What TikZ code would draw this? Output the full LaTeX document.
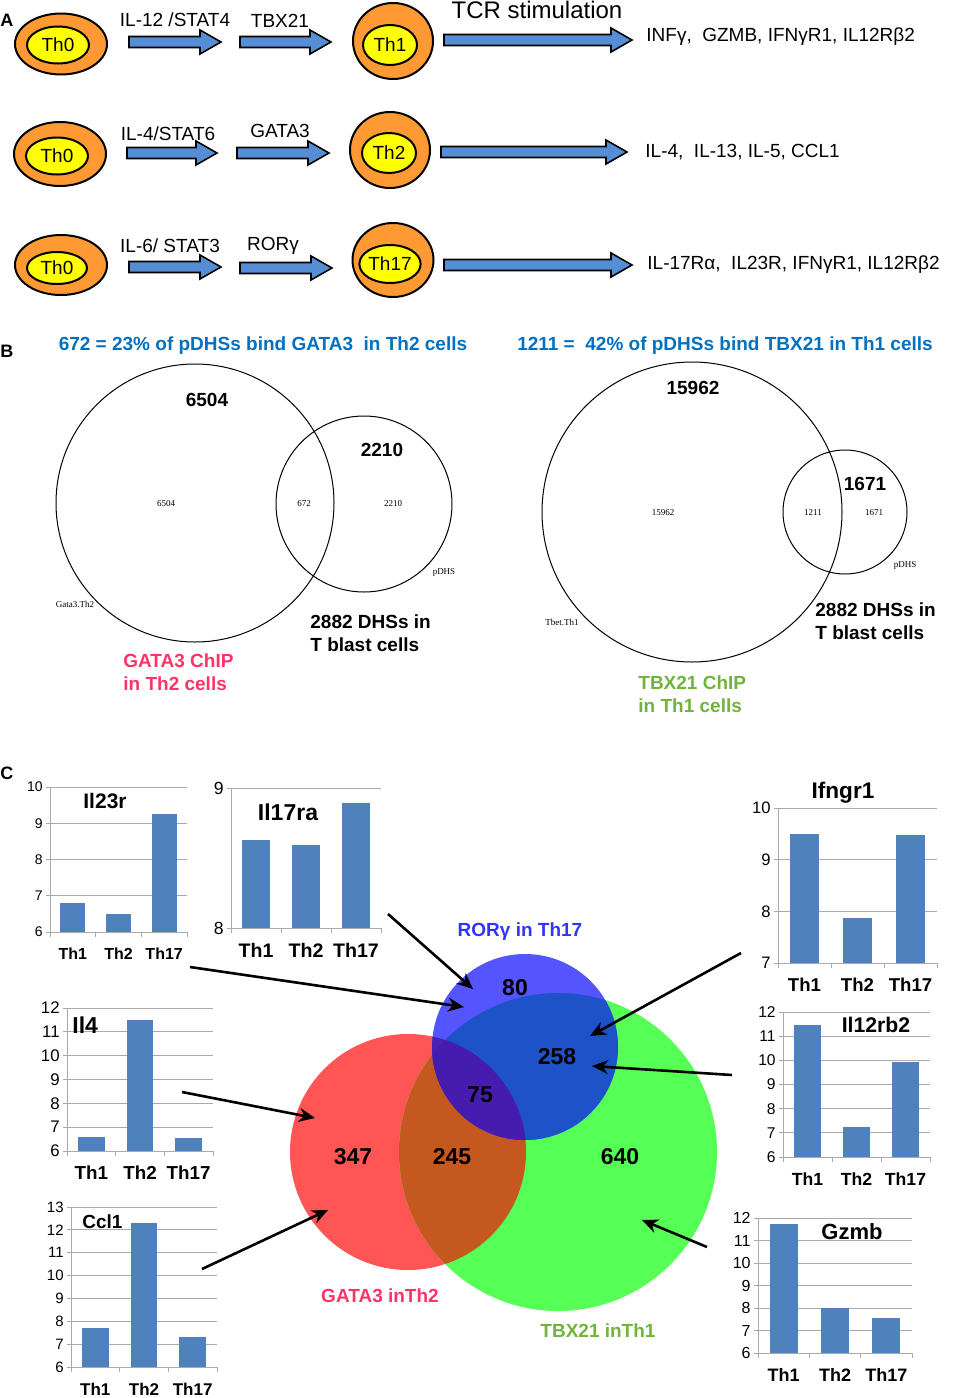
\documentclass[tikz,border=0pt]{standalone}
\usepackage{fontspec}
\setmainfont{Liberation Sans}
\newfontfamily\smallserif{Liberation Serif}
\usetikzlibrary{shapes.geometric,arrows.meta}

\definecolor{cellorange}{RGB}{255,153,51}
\definecolor{cellyellow}{RGB}{255,255,0}
\definecolor{arrowblue}{RGB}{85,142,213}
\definecolor{headblue}{RGB}{0,112,192}
\definecolor{gatared}{RGB}{255,51,102}
\definecolor{tbxgreen}{RGB}{112,180,60}
\definecolor{rorblue}{RGB}{51,51,255}
\definecolor{barblue}{RGB}{79,129,189}
\definecolor{gridgray}{RGB}{170,170,170}
\definecolor{vred}{RGB}{255,85,85}
\definecolor{vgreen}{RGB}{85,255,85}
\definecolor{vblue}{RGB}{85,85,255}
\definecolor{vredgreen}{RGB}{196,88,30}
\definecolor{vbluegreen}{RGB}{30,82,200}
\definecolor{vbluered}{RGB}{75,30,180}
\definecolor{vall}{RGB}{70,28,175}

\tikzset{
  outercell/.style={ellipse, draw, line width=1pt, fill=cellorange, inner sep=0pt},
  innercell/.style={ellipse, draw, line width=1pt, fill=cellyellow, inner sep=0pt,
    font=\fontsize{9.5}{10}\selectfont},
  blockarr/.style={draw, line width=0.8pt, fill=arrowblue},
  steplabel/.style={font=\fontsize{9.5}{10}\selectfont},
  genes/.style={font=\fontsize{9.5}{10}\selectfont, anchor=west, inner sep=0pt},
  heading/.style={font=\fontsize{9.5}{10}\selectfont\bfseries, text=headblue},
  panel/.style={font=\fontsize{9}{10}\selectfont\bfseries},
  vennline/.style={line width=0.5pt},
  bignum/.style={font=\fontsize{9.5}{10}\selectfont\bfseries},
  tinylab/.style={font=\fontsize{4.5}{5}\smallserif},
  setlab/.style={font=\fontsize{9.5}{11.5}\selectfont\bfseries, align=left, anchor=west, inner sep=0pt},
  gridline/.style={draw=gridgray, line width=0.5pt},
  barfill/.style={fill=barblue},
  regnum/.style={font=\fontsize{11.5}{12}\selectfont\bfseries},
  vennlab/.style={font=\fontsize{9.5}{10}\selectfont\bfseries},
  pointer/.style={line width=1.3pt, -{Stealth[length=8pt,width=7pt]}},
}

% block arrow: start x, tip x, centre y
\newcommand{\blockarrow}[3]{%
  \draw[blockarr] ({#1},{#3-5.5}) -- ({#2-21},{#3-5.5}) -- ({#2-21},{#3-12}) -- ({#2},{#3})
    -- ({#2-21},{#3+12}) -- ({#2-21},{#3+5.5}) -- ({#1},{#3+5.5}) -- cycle;}

% bar chart: axis x, axis y, width, height, min, max, values, font size, name
\newcommand{\barchart}[9]{%
  \pgfmathsetmacro{\stepy}{#4/(#6-#5)}
  \pgfmathsetmacro{\catw}{#3/3}
  \pgfmathsetmacro{\barw}{0.55*#3/3}
  \pgfmathsetmacro{\ysize}{#8-1}
  \foreach \gv in {#5,...,#6}{
    \draw[gridline] ({#1-4},{#2-\stepy*(\gv-#5)}) -- ({#1+#3},{#2-\stepy*(\gv-#5)});
    \node[anchor=east, inner sep=0pt, font=\fontsize{\ysize}{\ysize}\selectfont] (#9-y\gv)
      at ({#1-7},{#2-\stepy*(\gv-#5)}) {\gv};
  }
  \draw[gridline] ({#1},{#2}) -- ({#1},{#2-#4});
  \foreach \k in {0,...,3}
    \draw[gridline] ({#1+\k*\catw},{#2}) -- ++(0,5);
  \foreach \val [count=\k] in {#7}
    \fill[barfill] ({#1+(\k-0.5)*\catw-\barw/2},{#2}) rectangle ({#1+(\k-0.5)*\catw+\barw/2},{#2-\stepy*(\val-#5)});
  \foreach \cat [count=\k] in {Th1,Th2,Th17}
    \node[font=\fontsize{#8}{#8}\selectfont\bfseries] (#9-\cat) at ({#1+(\k-0.5)*\catw},{#2+22}) {\cat};
}

\begin{document}
\begin{tikzpicture}[x=0.5pt,y=-0.5pt]
\useasboundingbox (0,0) rectangle (953,1398);

% ---------- A ----------
\node[panel] (pa) at (7,20) {A};
% Th1 row
\node[outercell, minimum width=46pt, minimum height=30.5pt] (th0a) at (61,44) {};
\node[innercell, minimum width=31pt, minimum height=18.5pt] (th0ain) at (58,45) {Th0};
\blockarrow{129}{221}{42}
\node[steplabel] (il12) at (175,20) {IL-12 /STAT4};
\blockarrow{240}{331}{42}
\node[steplabel] (tbxa) at (280,21) {TBX21};
\node[outercell, minimum width=40pt, minimum height=38pt] (th1) at (393,41) {};
\node[innercell, minimum width=27pt, minimum height=20pt] (th1in) at (390,45) {Th1};
\node[font=\fontsize{12}{12}\selectfont] (tcr) at (537,10) {TCR stimulation};
\blockarrow{444}{632}{40}
\node[genes] (th1genes) at (646,37) {INFγ,\ \ GZMB, IFNγR1, IL12Rβ2};
% Th2 row
\node[outercell, minimum width=46pt, minimum height=32pt] (th0b) at (60,154) {};
\node[innercell, minimum width=31pt, minimum height=18.5pt] (th0bin) at (57,156) {Th0};
\blockarrow{127}{217}{153}
\node[steplabel] (il4a) at (168,134) {IL-4/STAT6};
\blockarrow{237}{329}{153}
\node[steplabel] (gataa) at (280,131) {GATA3};
\node[outercell, minimum width=40pt, minimum height=38pt] (th2) at (390,150) {};
\node[innercell, minimum width=27pt, minimum height=20pt] (th2in) at (389,153) {Th2};
\blockarrow{441}{627}{152}
\node[genes] (th2genes) at (645,152) {IL-4,\ \ IL-13, IL-5, CCL1};
% Th17 row
\node[outercell, minimum width=46pt, minimum height=30pt] (th0c) at (61,265) {};
\node[innercell, minimum width=30pt, minimum height=16pt] (th0cin) at (57,268) {Th0};
\blockarrow{129}{221}{267}
\node[steplabel] (il6) at (170,246) {IL-6/ STAT3};
\blockarrow{240}{332}{268}
\node[steplabel] (rora) at (273,246) {RORγ};
\node[outercell, minimum width=40.5pt, minimum height=37pt] (th17) at (393,260) {};
\node[innercell, minimum width=27pt, minimum height=19pt] (th17in) at (390,264) {Th17};
\blockarrow{444}{632}{265}
\node[genes] (th17genes) at (647,265) {IL-17Rα,\ \ IL23R, IFNγR1, IL12Rβ2};

% ---------- B ----------
\node[panel] (pb) at (7,351) {B};
\node[heading] (headgata) at (263,346) {672 = 23\% of pDHSs bind GATA3\ \ in Th2 cells};
\node[heading] (headtbx) at (725,346) {1211 =\ \ 42\% of pDHSs bind TBX21 in Th1 cells};
% GATA3 venn
\coordinate (gatabig) at (195,503);
\coordinate (pdhsa) at (364,504);
\draw[vennline] (gatabig) circle (139);
\draw[vennline] (pdhsa) circle (88);
\node[bignum] (n6504) at (207,400) {6504};
\node[bignum] (n2210) at (382,450) {2210};
\node[tinylab] (s6504) at (166,504) {6504};
\node[tinylab] (s672) at (304,504) {672};
\node[tinylab] (s2210) at (393,504) {2210};
\node[tinylab] (spdhsa) at (444,572) {pDHS};
\node[tinylab] (sgata) at (75,604) {Gata3.Th2};
\node[setlab] (dhsa) at (310,633) {2882 DHSs in\\T blast cells};
\node[setlab, text=gatared] (gatachip) at (123,672) {GATA3 ChIP\\in Th2 cells};
% TBX21 venn
\coordinate (tbxbig) at (692,512);
\coordinate (pdhsb) at (845,512);
\draw[vennline] (tbxbig) circle (150);
\draw[vennline] (pdhsb) circle (62);
\node[bignum] (n15962) at (693,388) {15962};
\node[bignum] (n1671) at (865,484) {1671};
\node[tinylab] (s15962) at (663,513) {15962};
\node[tinylab] (s1211) at (813,513) {1211};
\node[tinylab] (s1671) at (874,513) {1671};
\node[tinylab] (spdhsb) at (905,565) {pDHS};
\node[tinylab] (stbet) at (562,622) {Tbet.Th1};
\node[setlab] (dhsb) at (815,621) {2882 DHSs in\\T blast cells};
\node[setlab, text=tbxgreen] (tbxchip) at (638,694) {TBX21 ChIP\\in Th1 cells};

% ---------- C ----------
\node[panel] (pc) at (7,773) {C};
% three-way venn
\coordinate (rorc) at (525,1047);
\coordinate (gatac) at (408,1152);
\coordinate (tbxc) at (558,1152);
\fill[vred] (gatac) circle (118);
\fill[vgreen] (tbxc) circle (159);
\begin{scope}
  \clip (gatac) circle (118);
  \fill[vredgreen] (tbxc) circle (159);
\end{scope}
\fill[vblue] (rorc) circle (93);
\begin{scope}
  \clip (rorc) circle (93);
  \fill[vbluegreen] (tbxc) circle (159);
  \fill[vbluered] (gatac) circle (118);
  \clip (gatac) circle (118);
  \fill[vall] (tbxc) circle (159);
\end{scope}
\node[regnum] (r80) at (515,988) {80};
\node[regnum] (r258) at (557,1057) {258};
\node[regnum] (r75) at (480,1095) {75};
\node[regnum] (r347) at (353,1157) {347};
\node[regnum] (r245) at (452,1157) {245};
\node[regnum] (r640) at (620,1157) {640};
\node[vennlab, text=rorblue] (rorlab) at (520,932) {RORγ in Th17};
\node[vennlab, text=gatared] (gatalab) at (380,1296) {GATA3 inTh2};
\node[vennlab, text=tbxgreen] (tbxlab) at (598,1331) {TBX21 inTh1};

% expression charts
\barchart{50}{932}{137}{145}{6}{10}{6.8,6.5,9.25}{8}{il23r}
\node[font=\fontsize{10.5}{11}\selectfont\bfseries] (il23rt) at (105,801) {Il23r};
\barchart{231}{928}{150}{140}{8}{9}{8.63,8.59,8.89}{9.8}{il17ra}
\node[font=\fontsize{11.5}{12}\selectfont\bfseries] (il17rat) at (288,812) {Il17ra};
\barchart{778}{963}{159}{155}{7}{10}{9.5,7.88,9.47}{9.3}{ifngr1}
\node[font=\fontsize{11.3}{12}\selectfont\bfseries] (ifngr1t) at (843,793) {Ifngr1};
\barchart{67}{1151}{146}{143}{6}{12}{6.6,11.5,6.55}{9.4}{il4}
\node[font=\fontsize{11.5}{12}\selectfont\bfseries, anchor=west, inner sep=0pt] (il4t) at (72,1025) {Il4};
\barchart{71}{1367}{146}{160}{6}{13}{7.7,12.3,7.3}{8.5}{ccl1}
\node[font=\fontsize{9.5}{10}\selectfont\bfseries, anchor=west, inner sep=0pt] (ccl1t) at (82,1222) {Ccl1};
\barchart{783}{1157}{147}{145}{6}{12}{11.45,7.25,9.93}{8.8}{il12rb2}
\node[font=\fontsize{10.6}{11}\selectfont\bfseries] (il12rb2t) at (876,1025) {Il12rb2};
\barchart{758}{1353}{154}{135}{6}{12}{11.75,8.0,7.55}{9}{gzmb}
\node[font=\fontsize{11}{12}\selectfont\bfseries] (gzmbt) at (852,1232) {Gzmb};

% arrows from charts to venn regions
\coordinate (il17rafrom) at (388,914);
\coordinate (rortop) at (473,989);
\coordinate (il23rfrom) at (190,967);
\coordinate (rorleft) at (464,1007);
\coordinate (ifngr1from) at (741,953);
\coordinate (rtupper) at (590,1036);
\coordinate (il12rb2from) at (732,1075);
\coordinate (rtlower) at (592,1066);
\coordinate (il4from) at (182,1092);
\coordinate (gataupper) at (315,1118);
\coordinate (ccl1from) at (202,1269);
\coordinate (gatalower) at (328,1210);
\coordinate (gzmbfrom) at (707,1247);
\coordinate (tbxlower) at (642,1220);
\draw[pointer] (il17rafrom) -- (rortop);
\draw[pointer] (il23rfrom) -- (rorleft);
\draw[pointer] (ifngr1from) -- (rtupper);
\draw[pointer] (il12rb2from) -- (rtlower);
\draw[pointer] (il4from) -- (gataupper);
\draw[pointer] (ccl1from) -- (gatalower);
\draw[pointer] (gzmbfrom) -- (tbxlower);
\end{tikzpicture}
\end{document}
